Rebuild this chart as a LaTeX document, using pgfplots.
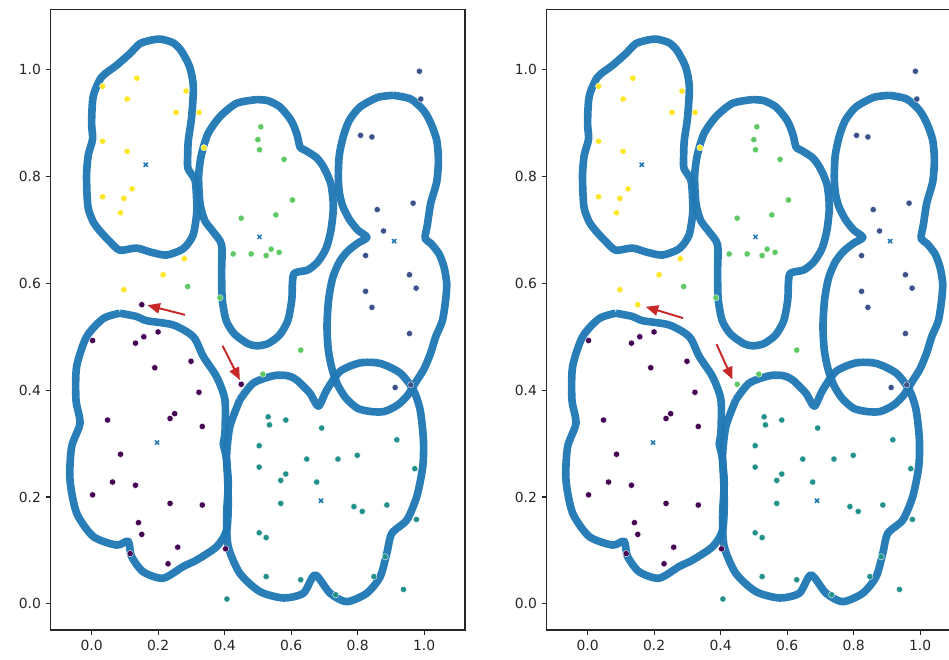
\documentclass[border=0pt]{standalone}
\usepackage{fontspec}
\setmainfont{DejaVu Sans}
\usepackage{pgfplots}
\usepackage{pgfplotstable}
\pgfplotsset{compat=1.18}
\usetikzlibrary{arrows.meta}
\definecolor{blob}{HTML}{1F77B4}
\definecolor{vpurple}{HTML}{440154}
\definecolor{vnavy}{HTML}{3B528B}
\definecolor{vteal}{HTML}{21918C}
\definecolor{vgreen}{HTML}{5EC962}
\definecolor{vyellow}{HTML}{FDE725}
\definecolor{arrowred}{HTML}{C62828}
\definecolor{spine}{HTML}{262626}

% ---------- contour outlines ----------
\pgfplotstableread{
x y
0.185 1.056
0.146 1.049
0.115 1.030
0.075 1.008
0.030 0.986
0.005 0.950
0.000 0.900
0.003 0.870
-0.010 0.840
-0.015 0.806
-0.014 0.770
-0.010 0.740
0.005 0.715
0.025 0.698
0.055 0.678
0.085 0.662
0.135 0.666
0.180 0.658
0.226 0.653
0.276 0.665
0.305 0.690
0.316 0.730
0.316 0.756
0.311 0.793
0.290 0.815
0.289 0.840
0.291 0.868
0.301 0.912
0.306 0.968
0.295 1.005
0.270 1.035
0.246 1.050
0.210 1.057
0.185 1.056
}\blobyellow
\pgfplotstableread{
x y
0.497 0.944
0.436 0.937
0.386 0.912
0.350 0.880
0.330 0.840
0.322 0.800
0.326 0.750
0.340 0.718
0.365 0.697
0.391 0.672
0.391 0.620
0.393 0.570
0.405 0.530
0.430 0.505
0.470 0.487
0.497 0.483
0.530 0.487
0.565 0.503
0.590 0.530
0.602 0.569
0.604 0.600
0.610 0.619
0.650 0.625
0.680 0.640
0.705 0.665
0.720 0.700
0.727 0.743
0.720 0.785
0.700 0.815
0.677 0.835
0.640 0.850
0.627 0.855
0.617 0.880
0.600 0.905
0.567 0.930
0.530 0.942
0.497 0.944
}\blobgreen
\pgfplotstableread{
x y
0.908 0.952
0.860 0.948
0.807 0.930
0.775 0.905
0.757 0.875
0.745 0.840
0.742 0.800
0.745 0.770
0.755 0.745
0.775 0.720
0.800 0.700
0.828 0.686
0.800 0.675
0.770 0.660
0.745 0.640
0.725 0.610
0.713 0.570
0.708 0.520
0.712 0.475
0.723 0.440
0.740 0.410
0.765 0.385
0.800 0.366
0.840 0.360
0.880 0.360
0.920 0.372
0.950 0.390
0.975 0.415
1.000 0.440
1.020 0.470
1.035 0.500
1.055 0.530
1.065 0.570
1.068 0.600
1.060 0.630
1.045 0.655
1.020 0.675
1.003 0.684
1.010 0.710
1.020 0.750
1.038 0.790
1.043 0.830
1.038 0.868
1.020 0.900
0.998 0.924
0.960 0.945
0.908 0.952
}\blobnavy
\pgfplotstableread{
x y
0.446 0.382
0.486 0.413
0.547 0.427
0.590 0.427
0.617 0.419
0.657 0.394
0.682 0.370
0.707 0.400
0.747 0.435
0.807 0.451
0.868 0.450
0.928 0.432
0.968 0.400
0.988 0.363
0.998 0.307
0.996 0.257
0.978 0.201
0.948 0.157
0.903 0.132
0.888 0.095
0.868 0.051
0.828 0.020
0.767 0.004
0.717 0.020
0.672 0.054
0.637 0.020
0.577 0.011
0.506 0.023
0.446 0.057
0.411 0.107
0.406 0.163
0.411 0.226
0.406 0.276
0.416 0.332
0.446 0.382
}\blobteal
\pgfplotstableread{
x y
0.085 0.544
0.135 0.538
0.166 0.530
0.246 0.522
0.306 0.500
0.336 0.463
0.376 0.425
0.401 0.382
0.401 0.319
0.396 0.300
0.406 0.269
0.411 0.195
0.406 0.138
0.376 0.107
0.316 0.082
0.276 0.070
0.215 0.048
0.155 0.060
0.120 0.089
0.110 0.117
0.075 0.110
0.005 0.126
-0.045 0.170
-0.065 0.232
-0.060 0.294
-0.035 0.338
-0.047 0.382
-0.045 0.444
-0.015 0.500
0.035 0.534
0.085 0.544
}\blobpurple

% ---------- points ----------
\pgfplotstableread{
x y
0.033 0.969
0.136 0.984
0.284 0.960
0.107 0.945
0.254 0.920
0.323 0.920
0.033 0.866
0.107 0.847
0.338 0.854
0.122 0.777
0.033 0.762
0.097 0.759
0.087 0.732
0.279 0.646
0.215 0.616
0.097 0.588
}\ptyellow
\pgfplotstableread{
x y
0.509 0.893
0.500 0.869
0.505 0.850
0.579 0.832
0.604 0.756
0.450 0.722
0.554 0.728
0.426 0.655
0.480 0.655
0.525 0.652
0.540 0.664
0.564 0.658
0.289 0.594
0.386 0.573
0.629 0.475
0.515 0.430
}\ptgreen
\pgfplotstableread{
x y
0.986 0.997
0.990 0.945
0.809 0.877
0.843 0.874
0.859 0.738
0.967 0.750
0.878 0.698
0.824 0.652
0.956 0.616
0.976 0.591
0.824 0.585
0.843 0.555
0.956 0.506
0.913 0.405
0.960 0.410
}\ptnavy
\pgfplotstableread{
x y
0.200 0.509
0.157 0.500
0.132 0.488
0.003 0.493
0.299 0.454
0.190 0.442
0.323 0.396
0.250 0.356
0.236 0.347
0.048 0.344
0.333 0.332
0.087 0.280
0.063 0.228
0.132 0.222
0.003 0.204
0.236 0.188
0.333 0.185
0.141 0.152
0.151 0.130
0.259 0.106
0.116 0.094
0.403 0.103
0.230 0.075
}\ptpurple
\pgfplotstableread{
x y
0.531 0.350
0.535 0.335
0.584 0.344
0.692 0.329
0.918 0.307
0.504 0.296
0.799 0.278
0.647 0.271
0.741 0.271
0.504 0.256
0.972 0.253
0.584 0.243
0.569 0.231
0.677 0.228
0.569 0.188
0.789 0.182
0.814 0.173
0.888 0.185
0.977 0.158
0.504 0.133
0.525 0.124
0.883 0.088
0.525 0.051
0.629 0.045
0.849 0.051
0.734 0.017
0.938 0.027
0.407 0.009
}\ptteal
\pgfplotstableread{
x y
0.163 0.822
0.505 0.687
0.910 0.679
0.197 0.302
0.690 0.193
}\centres
% the two points marked by arrows
\pgfplotstableread{
x y
0.151 0.560
}\ptA
\pgfplotstableread{
x y
0.450 0.411
}\ptB

\pgfplotsset{
  panel/.style={
    scale only axis, width=298.3pt, height=446.9pt, anchor=south west,
    xmin=-0.123, xmax=1.123, ymin=-0.049, ymax=1.113,
    xtick={0,0.2,0.4,0.6,0.8,1.0}, ytick={0,0.2,0.4,0.6,0.8,1.0},
    tick pos=left, tick align=outside, major tick length=3.5pt,
    every tick/.style={spine, line width=0.8pt},
    axis line style={spine, line width=0.8pt},
    ticklabel style={font=\fontsize{10}{12}\selectfont, text=spine},
    /pgf/number format/fixed, /pgf/number format/fixed zerofill,
    /pgf/number format/precision=1, /pgf/number format/assume math mode=true,
  },
  blobline/.style={blob, line width=5.5pt, smooth, tension=0.45, line join=round, mark=none, opacity=0.95},
  pts/.style={only marks, mark=*, mark size=2.25pt, mark options={draw=white, line width=0.25pt}},
  ctr/.style={only marks, mark=x, mark size=2.1pt, mark options={blob, line width=1.1pt}},
}
\tikzset{redarrow/.style={arrowred, line width=1.4pt, -{Triangle[length=9pt,width=7.5pt]}}}

\begin{document}
\begin{tikzpicture}
\useasboundingbox (0,0) rectangle (683.28pt,474.48pt);
\clip (0,0) rectangle (683.28pt,474.48pt);

\begin{axis}[panel, at={(36.5pt,20.88pt)}]
  \addplot[blobline] table {\blobyellow};
  \addplot[blobline] table {\blobgreen};
  \addplot[blobline] table {\blobnavy};
  \addplot[blobline] table {\blobteal};
  \addplot[blobline] table {\blobpurple};
  \addplot[pts, fill=vyellow] table {\ptyellow};
  \addplot[pts, fill=vgreen] table {\ptgreen};
  \addplot[pts, fill=vnavy] table {\ptnavy};
  \addplot[pts, fill=vpurple] table {\ptpurple};
  \addplot[pts, fill=vteal] table {\ptteal};
  \addplot[pts, fill=vpurple] table {\ptA};
  \addplot[pts, fill=vpurple] table {\ptB};
  \addplot[ctr] table {\centres};
  \draw[redarrow] (axis cs:0.281,0.541) -- (axis cs:0.168,0.559);
  \draw[redarrow] (axis cs:0.394,0.483) -- (axis cs:0.446,0.419);
\end{axis}

\begin{axis}[panel, at={(393.6pt,20.88pt)}]
  \addplot[blobline] table {\blobyellow};
  \addplot[blobline] table {\blobgreen};
  \addplot[blobline] table {\blobnavy};
  \addplot[blobline] table {\blobteal};
  \addplot[blobline] table {\blobpurple};
  \addplot[pts, fill=vyellow] table {\ptyellow};
  \addplot[pts, fill=vgreen] table {\ptgreen};
  \addplot[pts, fill=vnavy] table {\ptnavy};
  \addplot[pts, fill=vpurple] table {\ptpurple};
  \addplot[pts, fill=vteal] table {\ptteal};
  \addplot[pts, fill=vyellow] table {\ptA};
  \addplot[pts, fill=vgreen] table {\ptB};
  \addplot[ctr] table {\centres};
  \draw[redarrow] (axis cs:0.287,0.535) -- (axis cs:0.175,0.556);
  \draw[redarrow] (axis cs:0.388,0.486) -- (axis cs:0.436,0.420);
\end{axis}
\end{tikzpicture}
\end{document}
